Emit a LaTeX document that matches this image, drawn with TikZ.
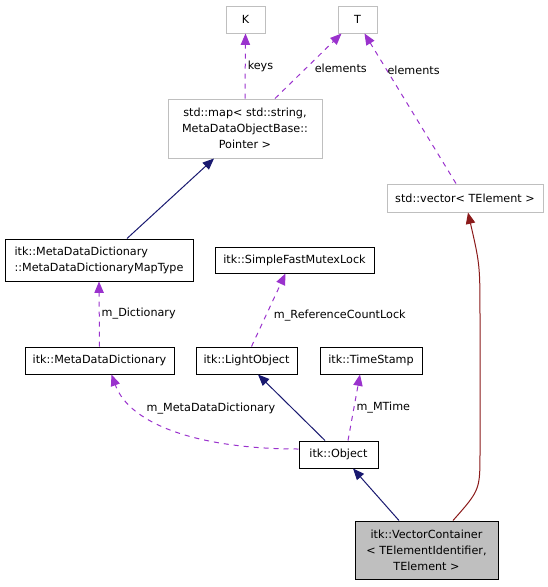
\documentclass[tikz,border=0pt]{standalone}
\usepackage{fontspec}
\setmainfont{DejaVu Sans}
\usetikzlibrary{calc,arrows.meta}
\definecolor{edgepurple}{HTML}{9A32CD}
\definecolor{edgenavy}{HTML}{191970}
\definecolor{edgered}{HTML}{8B1A1A}
\definecolor{boxgrey}{HTML}{BFBFBF}
\tikzset{
	cls/.style={draw=black, line width=0.75pt, align=center, inner sep=0pt, font=\fontsize{8.4}{12}\selectfont},
	extcls/.style={cls, draw=boxgrey},
	usage/.style={draw=edgepurple, line width=0.75pt, dash pattern=on 3.75pt off 3.75pt, -{Triangle[length=8.5pt,width=7pt]}},
	inherit/.style={draw=edgenavy, line width=0.75pt, -{Triangle[length=8.5pt,width=7pt]}},
	tmpl/.style={draw=edgered, line width=0.75pt, -{Triangle[length=8.5pt,width=7pt]}},
	lbl/.style={font=\fontsize{8.4}{12}\selectfont, inner sep=1.5pt}
}

\begin{document}
\begin{tikzpicture}[x=0.75pt, y=-0.75pt]
		%%%%% START %%%%%
		\useasboundingbox (0, 0) rectangle (548, 587);
		
		\node[extcls, minimum width=29.25pt, minimum height=20.25pt] (K) at (245.5, 19.5) {K};
		\node[extcls, minimum width=29.25pt, minimum height=20.25pt] (T) at (357.5, 19.5) {T};
		\node[extcls, minimum width=115.5pt, minimum height=44.25pt] (map) at (245, 128.5) {std::map< std::string,\\MetaDataObjectBase::\\Pointer >};
		\node[extcls, minimum width=117pt, minimum height=21pt] (vector) at (465, 198) {std::vector< TElement >};
		
		\node[cls, align=left, minimum width=141pt, minimum height=31.5pt] (maptype) at (99, 260) {itk::MetaDataDictionary\\::MetaDataDictionaryMapType};
		\node[cls, minimum width=119.25pt, minimum height=19.5pt] (mutex) at (294.5, 260) {itk::SimpleFastMutexLock};
		
		\node[cls, minimum width=111.75pt, minimum height=20.25pt] (mdd) at (99.5, 360.5) {itk::MetaDataDictionary};
		\node[cls, minimum width=75.75pt, minimum height=20.25pt] (light) at (246.5, 360.5) {itk::LightObject};
		\node[cls, minimum width=76.5pt, minimum height=20.25pt] (stamp) at (371, 360.5) {itk::TimeStamp};
		
		\node[cls, minimum width=59.25pt, minimum height=20.25pt] (object) at (338.5, 454.5) {itk::Object};
		\node[cls, fill=boxgrey, minimum width=107.25pt, minimum height=43.5pt] (vc) at (426.5, 550) {itk::VectorContainer\\< TElementIdentifier,\\TElement >};
		
		% template arguments
		\draw[usage] (map.north) -- node[lbl, right] {keys} (K.south);
		\draw[usage] ($(map.north)+(30, 0)$) -- node[lbl, right=3pt, yshift=-2pt] {elements} ($(T.south)+(-16, 0)$);
		\draw[usage] ($(vector.north)+(-9, 0)$) -- node[lbl, right, pos=0.775, yshift=-2pt] {elements} ($(T.south)+(7, 0)$);
		
		\draw[inherit] ($(maptype.north)+(28, 0)$) -- ($(map.south)+(-31, 0)$);
		\draw[usage] (mdd.north) -- node[lbl, right] {m\_Dictionary} (maptype.south);
		\draw[usage] ($(light.north)+(5, 0)$) -- node[lbl, right=4pt, pos=0.43] {m\_ReferenceCountLock} ($(mutex.south)+(-9, 0)$);
		
		\draw[inherit] ($(object.north)+(-13.5, 0)$) -- ($(light.south)+(11.5, 0)$);
		\draw[usage] ($(object.north)+(9.5, 0)$) -- node[lbl, right] {m\_MTime} ($(stamp.south)+(-11, 0)$);
		\draw[usage] ($(object.west)+(0, -5.5)$) .. controls (200, 449) and (130, 425) .. node[lbl, pos=0.45, xshift=19.5pt, yshift=19pt] {m\_MetaDataDictionary} ($(mdd.south)+(12, 0)$);
		
		\draw[inherit] ($(vc.north)+(-27.5, 0)$) -- ($(object.south)+(14.5, 0)$);
		\draw[tmpl] ($(vc.north)+(26.5, 0)$) .. controls (480, 490) .. (480, 452) -- (480, 320) .. controls (480, 265) .. ($(vector.south)+(3, 0)$);
		
		%%%%% END %%%%%
	\end{tikzpicture}
\end{document}
